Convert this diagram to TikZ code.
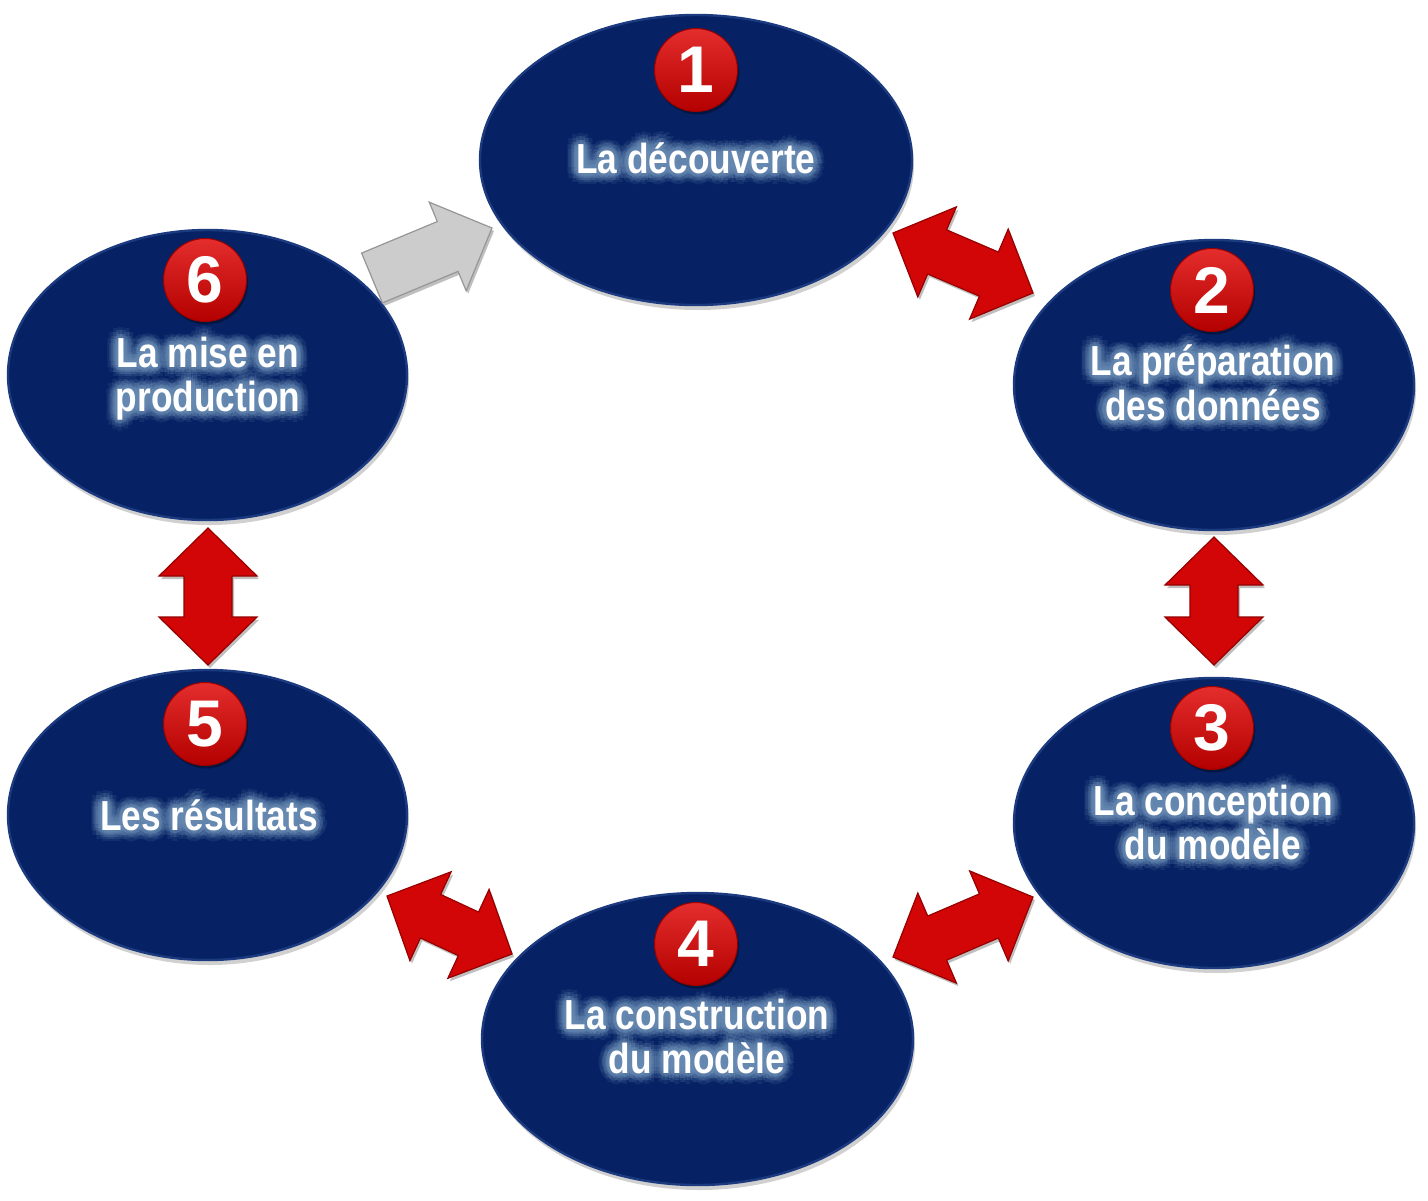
\documentclass[tikz,border=0pt]{standalone}
\usepackage{fontspec}
\usetikzlibrary{shapes.geometric,calc,shadows}
\newfontfamily\lf[FakeStretch=0.84]{Liberation Sans}
\newfontfamily\nf{Liberation Sans}
\definecolor{navy}{RGB}{6,34,100}
\definecolor{navyrim}{RGB}{28,58,128}
\definecolor{glowc}{RGB}{105,140,180}
\definecolor{balltop}{RGB}{228,45,45}
\definecolor{ballbot}{RGB}{180,0,0}
\definecolor{arrowred}{RGB}{210,6,6}
\definecolor{arrowedge}{RGB}{150,0,0}
\definecolor{arrowgray}{RGB}{204,204,204}
\definecolor{grayedge}{RGB}{150,150,150}
\tikzset{
  bubble/.style={ellipse, inner sep=0pt, outer sep=0pt, fill=navy, draw=navyrim,
    line width=1.2pt,
    drop shadow={shadow xshift=1pt, shadow yshift=-2.5pt, opacity=0.3, fill=black!60}},
  numball/.style={circle, inner sep=0pt, minimum size=41.5pt, top color=balltop,
    bottom color=ballbot, draw=ballbot!85!black, line width=0.5pt, text=white,
    font=\nf\bfseries\fontsize{33}{33}\selectfont,
    drop shadow={shadow xshift=0.8pt, shadow yshift=-1.5pt, opacity=0.35, fill=black}},
  lbl/.style={inner sep=0pt, anchor=base, font=\lf\bfseries\fontsize{21}{22}\selectfont},
  redarrow/.style={fill=arrowred, draw=arrowedge, line width=0.6pt, line join=miter,
    drop shadow={shadow xshift=1pt, shadow yshift=-1.5pt, opacity=0.25, fill=black}},
  grayarrow/.style={fill=arrowgray, draw=grayedge, line width=0.6pt, line join=miter,
    drop shadow={shadow xshift=1pt, shadow yshift=-1.5pt, opacity=0.25, fill=black}}
}
\newcommand\glowline[3]{%
  \foreach \ang in {0,30,...,330}{%
    \node[lbl, text=glowc, text opacity=0.13] at ($(#2)+(\ang:11)$) {#3};
    \node[lbl, text=glowc, text opacity=0.22] at ($(#2)+(\ang+15:7.5)$) {#3};
    \node[lbl, text=glowc, text opacity=0.3] at ($(#2)+(\ang:4)$) {#3};
  }%
  \node[lbl, text=white] (#1) at (#2) {#3};
}
\newcommand\dblarrow[3]{%
  \coordinate (h1) at ($(#1)!24pt!(#2)$);
  \coordinate (h2) at ($(#2)!24pt!(#1)$);
  \path[#3] (#1) -- ($(h1)!24.5pt!90:(#2)$) -- ($(h1)!12pt!90:(#2)$)
    -- ($(h2)!12pt!-90:(#1)$) -- ($(h2)!24.5pt!-90:(#1)$) -- (#2)
    -- ($(h2)!24.5pt!90:(#1)$) -- ($(h2)!12pt!90:(#1)$)
    -- ($(h1)!12pt!-90:(#2)$) -- ($(h1)!24.5pt!-90:(#2)$) -- cycle;
}
\newcommand\sglarrow[3]{%
  \coordinate (hb) at ($(#2)!24pt!(#1)$);
  \path[#3] ($(#1)!13.5pt!90:(#2)$) -- ($(hb)!13.5pt!-90:(#1)$)
    -- ($(hb)!24pt!-90:(#1)$) -- (#2) -- ($(hb)!24pt!90:(#1)$)
    -- ($(hb)!13.5pt!90:(#1)$) -- ($(#1)!13.5pt!-90:(#2)$) -- cycle;
}
\begin{document}
\begin{tikzpicture}[x=0.5pt, y=-0.5pt]
  \fill[white] (0,0) rectangle (1428,1200);
  \useasboundingbox (0,0) rectangle (1428,1200);

  % ellipses
  \node[bubble, minimum width=216pt, minimum height=145pt] (e1) at (696,160) {};
  \node[bubble, minimum width=200pt, minimum height=145pt] (e2) at (1214,385) {};
  \node[bubble, minimum width=200pt, minimum height=145pt] (e3) at (1214,823) {};
  \node[bubble, minimum width=215.5pt, minimum height=146pt] (e4) at (697.5,1039) {};
  \node[bubble, minimum width=199.5pt, minimum height=145pt] (e5) at (207.5,815) {};
  \node[bubble, minimum width=199.5pt, minimum height=145pt] (e6) at (207.5,375) {};

  % number balls
  \node[numball] (n1) at (696,70) {1};
  \node[numball] (n2) at (1212,290) {2};
  \node[numball] (n3) at (1212,728) {3};
  \node[numball] (n4) at (696,944) {4};
  \node[numball] (n5) at (205,724) {5};
  \node[numball] (n6) at (205,280) {6};

  % labels
  \glowline{t1}{696,173}{La découverte}
  \glowline{t2a}{1213,375}{La préparation}
  \glowline{t2b}{1213,420}{des données}
  \glowline{t3a}{1213,815}{La conception}
  \glowline{t3b}{1213,859}{du modèle}
  \glowline{t4a}{697,1029}{La construction}
  \glowline{t4b}{697,1073}{du modèle}
  \glowline{t5}{209,830}{Les résultats}
  \glowline{t6a}{208,367}{La mise en}
  \glowline{t6b}{208,411}{production}

  % connector end points
  \coordinate (a12s) at (893,233);  \coordinate (a12e) at (1033,293);
  \coordinate (a23s) at (1214,537); \coordinate (a23e) at (1214,665);
  \coordinate (a34s) at (1033,897); \coordinate (a34e) at (893,957);
  \coordinate (a45s) at (512,954);  \coordinate (a45e) at (387,896);
  \coordinate (a56s) at (208,665);  \coordinate (a56e) at (208,528);
  \coordinate (a61s) at (372,278);  \coordinate (a61e) at (492,228);

  \dblarrow{a12s}{a12e}{redarrow}
  \dblarrow{a23s}{a23e}{redarrow}
  \dblarrow{a34s}{a34e}{redarrow}
  \dblarrow{a45s}{a45e}{redarrow}
  \dblarrow{a56s}{a56e}{redarrow}
  \sglarrow{a61s}{a61e}{grayarrow}
\end{tikzpicture}
\end{document}
